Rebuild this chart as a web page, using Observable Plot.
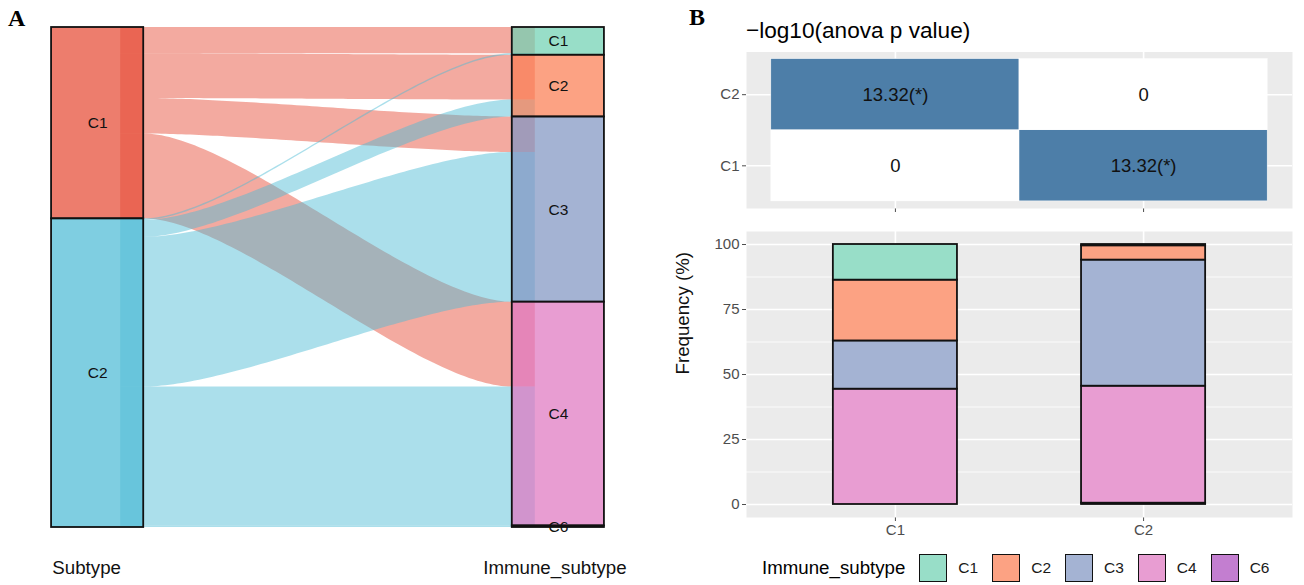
<!DOCTYPE html>
<html>
<head>
<meta charset="utf-8">
<script src="https://cdn.jsdelivr.net/npm/d3@7"></script>
<script src="https://cdn.jsdelivr.net/npm/@observablehq/plot@0.6"></script>
<style>
  html, body { margin: 0; padding: 0; background: #ffffff; }
  #page { position: relative; width: 1304px; height: 585px; overflow: hidden;
          font-family: "Liberation Sans", Arial, Helvetica, sans-serif; color: #000; }
  .abs { position: absolute; }
  .tag { font-family: "Liberation Serif", "Times New Roman", serif; font-weight: bold;
         font-size: 24px; line-height: 24px; }
  #heatTitle { font-size: 22.6px; line-height: 22.6px; white-space: nowrap; }
  #legend { display: flex; align-items: center; height: 28px; white-space: nowrap; }
  #legend .ltitle { font-size: 18.7px; margin-right: 14px; }
  #legend .key { width: 26px; height: 26px; border: 1.6px solid #111; box-sizing: content-box; margin-right: 11px; }
  #legend .lab { font-size: 15.5px; color: #1a1a1a; margin-right: 14px; }
  /* axis tick labels */
  g[aria-label^="x-axis"] text, g[aria-label^="y-axis"] text { font-size: 15px; }
</style>
</head>
<body>
<div id="page">
  <div class="abs tag" style="left:8px; top:6px;">A</div>
  <div class="abs tag" style="left:689px; top:5px;">B</div>
  <div id="sankey" class="abs" style="left:0; top:0;"></div>
  <div id="heatTitle" class="abs" style="left:746px; top:20px;">&minus;log10(anova p value)</div>
  <div id="heat" class="abs" style="left:680px; top:45px;"></div>
  <div id="bars" class="abs" style="left:600px; top:225px;"></div>
  <div id="legend" class="abs" style="left:762px; top:554px;"></div>
</div>
<script>
// ---- data ----------------------------------------------------------------
const subtypes = ["C1", "C2"];
const immuneSubtypes = ["C1", "C2", "C3", "C4", "C6"];
// sample counts per immune subtype, for each tumour subtype
const countsFromC1 = [17, 29, 23, 55, 0];
const countsFromC2 = [1, 11, 97, 90, 1];
// -log10(anova p) heat map: rows C1 (bottom), C2 (top); columns C1, C2
const heatRows = ["C1", "C2"];
const heatCols = ["C1", "C2"];
const anovaRowC1 = [0, 13.32];
const anovaRowC2 = [13.32, 0];
const signifRowC1 = ["", "(*)"];
const signifRowC2 = ["(*)", ""];
const freqTicks = [0, 25, 50, 75, 100];

// ---- palette --------------------------------------------------------------
const subtypeColors = ["#E64B35", "#4DBBD5"];
const immuneColors = ["#70D1B3", "#FB7E53", "#8195C2", "#DF77C1", "#AC4CBE"];
const immuneLight = immuneColors.map(c => d3.interpolateRgb("#ffffff", c)(0.72));
const font = `"Liberation Sans", Arial, Helvetica, sans-serif`;

// ---- alluvial layout ----------------------------------------------------
const bySubtype = [countsFromC1, countsFromC2];
const total = d3.sum(bySubtype, d => d3.sum(d));
const strata = [];
const links = [];
let acc = 0;
subtypes.forEach((s, i) => {
  const n = d3.sum(bySubtype[i]);
  strata.push({axis: 1, name: s, y1: acc, y2: acc + n, color: subtypeColors[i]});
  let off = acc;
  immuneSubtypes.forEach((t, j) => {
    const v = bySubtype[i][j];
    links.push({source: i, target: j, value: v, s0: off, s1: off + v});
    off += v;
  });
  acc += n;
});
acc = 0;
immuneSubtypes.forEach((t, j) => {
  const n = d3.sum(bySubtype, c => c[j]);
  strata.push({axis: 2, name: t, y1: acc, y2: acc + n, color: immuneColors[j]});
  let off = acc;
  subtypes.forEach((s, i) => {
    const l = links.find(k => k.source === i && k.target === j);
    l.t0 = off; l.t1 = off + l.value; off += l.value;
  });
  acc += n;
});

const stratumHalf = 0.1;   // half stratum width, in axis units
const flowInset = 0.05;    // flows reach halfway into each stratum
function flowPath(l, id) {
  const xa = 1 + flowInset, xb = 1 + stratumHalf, xc = 2 - stratumHalf, xd = 2 - flowInset;
  const pts = [{id, x: xa, y1: l.s0, y2: l.s1}];
  const steps = 80;
  for (let k = 0; k <= steps; k++) {
    const t = k / steps, u = 1 - t;
    const bx = 3 * u * u * t * 0.25 + 3 * u * t * t * 0.75 + t * t * t;
    const by = 3 * u * t * t + t * t * t;
    pts.push({id, x: xb + (xc - xb) * bx,
              y1: l.s0 + (l.t0 - l.s0) * by, y2: l.s1 + (l.t1 - l.s1) * by});
  }
  pts.push({id, x: xd, y1: l.t0, y2: l.t1});
  return pts;
}
const flowsBySource = subtypes.map((s, i) =>
  links.filter(l => l.source === i && l.value > 0).flatMap((l, k) => flowPath(l, `${i}-${k}`)));

const sankey = Plot.plot({
  width: 650, height: 585,
  marginTop: 27, marginBottom: 58, marginLeft: 5, marginRight: 0,
  style: {fontFamily: font, background: "transparent", overflow: "visible"},
  x: {domain: [0.8, 2.2], axis: null},
  y: {domain: [0, total], reverse: true, axis: null},
  color: {type: "identity"},
  marks: [
    ...flowsBySource.map((pts, i) => Plot.areaY(pts, {
      x: "x", y1: "y1", y2: "y2", z: "id",
      fill: subtypeColors[i], fillOpacity: 0.47
    })),
    Plot.rect(strata, {
      x1: d => d.axis - stratumHalf, x2: d => d.axis + stratumHalf,
      y1: "y1", y2: "y2", fill: "color", fillOpacity: 0.72,
      stroke: "#111", strokeWidth: 1.8
    }),
    Plot.text(strata, {
      x: "axis", y: d => (d.y1 + d.y2) / 2, text: "name",
      fontSize: 15.5, fill: "#111"
    }),
    Plot.text(["Subtype"], {x: 1, y: total, text: d => d, dy: 41, dx: -11, fontSize: 18.7, fill: "#111"}),
    Plot.text(["Immune_subtype"], {x: 2, y: total, text: d => d, dy: 41, dx: -3.5, fontSize: 18.7, fill: "#111"})
  ]
});
document.getElementById("sankey").append(sankey);

// ---- heat map -------------------------------------------------------------
const heatValues = [anovaRowC1, anovaRowC2];
const heatSignif = [signifRowC1, signifRowC2];
const cells = [];
heatRows.forEach((r, ri) => heatCols.forEach((c, ci) => {
  const v = heatValues[ri][ci];
  cells.push({row: ri + 1, col: ci + 1, value: v,
              label: (v === 0 ? "0" : v.toFixed(2)) + heatSignif[ri][ci]});
}));

const heat = Plot.plot({
  width: 624, height: 170,
  marginLeft: 66, marginRight: 12, marginTop: 6.5, marginBottom: 7,
  style: {fontFamily: font, fontSize: "15px", color: "#4D4D4D", background: "transparent", overflow: "visible"},
  x: {domain: [0.4, 2.6], ticks: [1, 2], tickFormat: () => "", tickSize: 4, label: null},
  y: {domain: [0.4, 2.6], ticks: [1, 2], tickFormat: d => heatRows[d - 1], tickSize: 4, tickPadding: 3, label: null},
  color: {type: "linear", domain: [0, d3.max(cells, d => d.value)], range: ["#ffffff", "#4D7EA8"]},
  marks: [
    Plot.frame({fill: "#EBEBEB", stroke: null}),
    Plot.ruleX([1, 2], {stroke: "#ffffff", strokeWidth: 1.6}),
    Plot.ruleY([1, 2], {stroke: "#ffffff", strokeWidth: 1.6}),
    Plot.rect(cells, {
      x1: d => d.col - 0.5, x2: d => d.col + 0.5,
      y1: d => d.row - 0.5, y2: d => d.row + 0.5,
      fill: "value", stroke: "#ffffff", strokeWidth: 0.5
    }),
    Plot.text(cells, {x: "col", y: "row", text: "label", fontSize: 18.5, fill: "#111"})
  ]
});
document.getElementById("heat").append(heat);

// ---- stacked frequency bars ---------------------------------------------
const segments = [];
subtypes.forEach((s, i) => {
  const n = d3.sum(bySubtype[i]);
  let base = 0;
  for (let j = immuneSubtypes.length - 1; j >= 0; j--) {
    const pct = bySubtype[i][j] / n * 100;
    if (pct > 0) segments.push({pos: i + 1, lo: base, hi: base + pct, color: immuneLight[j]});
    base += pct;
  }
});

const bars = Plot.plot({
  width: 704, height: 315,
  marginLeft: 146, marginRight: 12, marginTop: 6, marginBottom: 23,
  style: {fontFamily: font, fontSize: "15px", color: "#4D4D4D", background: "transparent", overflow: "visible"},
  x: {domain: [0.4, 2.6], ticks: [1, 2], tickFormat: d => subtypes[d - 1], tickSize: 4, tickPadding: 3, label: null},
  y: {domain: [-5, 105], ticks: freqTicks, tickSize: 4, tickPadding: 3, label: null},
  color: {type: "identity"},
  marks: [
    Plot.frame({fill: "#EBEBEB", stroke: null}),
    Plot.ruleY(d3.range(12.5, 100, 25), {stroke: "#ffffff", strokeWidth: 0.8}),
    Plot.ruleY(freqTicks, {stroke: "#ffffff", strokeWidth: 1.6}),
    Plot.ruleX([1, 2], {stroke: "#ffffff", strokeWidth: 1.6}),
    Plot.rect(segments, {
      x1: d => d.pos - 0.25, x2: d => d.pos + 0.25, y1: "lo", y2: "hi",
      fill: "color", stroke: "#111", strokeWidth: 1.8
    }),
    Plot.text(["Frequency (%)"], {frameAnchor: "left", text: d => d, rotate: -90, dx: -63, fontSize: 18.7, fill: "#111"})
  ]
});
document.getElementById("bars").append(bars);

// ---- legend ---------------------------------------------------------------
const legend = d3.select("#legend");
legend.append("span").attr("class", "ltitle").text("Immune_subtype");
immuneSubtypes.forEach((t, j) => {
  legend.append("span").attr("class", "key").style("background", immuneLight[j]);
  legend.append("span").attr("class", "lab").text(t);
});
</script>
</body>
</html>
